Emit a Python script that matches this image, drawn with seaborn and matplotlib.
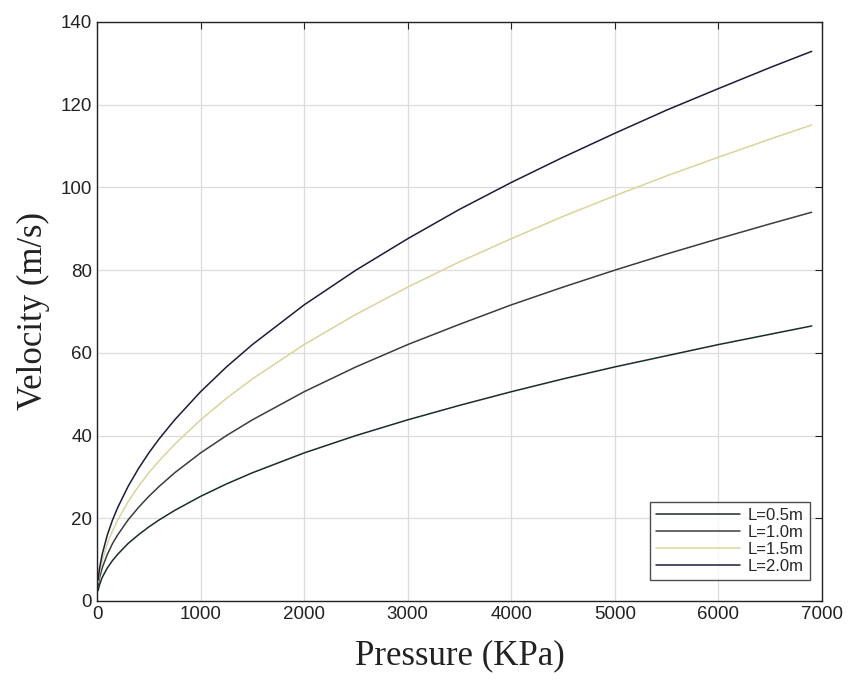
import pandas as pd
import numpy as np
import matplotlib
matplotlib.use("Agg")
import matplotlib.pyplot as plt
import seaborn as sns

# valori
pressure = [10, 25, 50, 100, 150, 200, 300, 400, 500, 600, 750, 1000, 1250,
            1500, 2000, 2500, 3000, 3500, 4000, 4500, 5000, 5500, 6000, 6500, 6900]
v_05 = [2.5, 4.0, 5.7, 8.0, 9.8, 11.3, 13.9, 16.0, 17.9, 19.6, 21.9, 25.3, 28.3,
        31.0, 35.8, 40.0, 43.8, 47.3, 50.6, 53.7, 56.6, 59.3, 62.0, 64.5, 66.5]
v_10 = [3.6, 5.7, 8.0, 11.3, 13.9, 16.0, 19.6, 22.6, 25.3, 27.7, 31.0, 35.8, 40.0,
        43.8, 50.6, 56.6, 62.0, 66.9, 71.6, 75.9, 80.0, 83.9, 87.6, 91.2, 94.0]
v_15 = [4.4, 6.9, 9.8, 13.9, 17.0, 19.6, 24.0, 27.7, 31.0, 33.9, 37.9, 43.8, 49.0,
        53.7, 62.0, 69.3, 75.9, 82.0, 87.6, 93.0, 98.0, 102.8, 107.3, 111.7, 115.1]
v_20 = [5.1, 8.0, 11.3, 16.0, 19.6, 22.6, 27.7, 32.0, 35.8, 39.2, 43.8, 50.6, 56.6,
        62.0, 71.6, 80.0, 87.6, 94.7, 101.2, 107.3, 113.1, 118.7, 123.9, 129.0, 132.9]
labels = ["L=0.5m", "L=1.0m", "L=1.5m", "L=2.0m"]
colors = ["#1a2c2c", "#3a3d3a", "#d9d49a", "#1c1c3c"]

df = pd.concat([
    pd.DataFrame({"Pressure": pressure, "Velocity": v, "L": lab})
    for v, lab in zip([v_05, v_10, v_15, v_20], labels)
])

sns.set_style("white")
plt.rcParams['font.family'] = ['Liberation Sans', 'DejaVu Sans']

fig = plt.figure(figsize=(8.57, 6.81), dpi=100)
ax = fig.add_axes([0.1132, 0.1175, 0.846, 0.8502])

sns.lineplot(data=df, x="Pressure", y="Velocity", hue="L", hue_order=labels,
             palette=colors, linewidth=1.1, ax=ax, sort=True)

ax.set_xlim(0, 7000)
ax.set_ylim(0, 140)
ax.set_xticks(np.arange(0, 7001, 1000))
ax.set_yticks(np.arange(0, 141, 20))
ax.grid(True, color="#dcdcdc", linewidth=0.9)
ax.tick_params(direction="in", top=True, right=True, length=5,
               labelsize=13.5, colors="#222222", width=0.8)
for s in ax.spines.values():
    s.set_color("#222222")
    s.set_linewidth(1.0)

ax.set_xlabel("Pressure (KPa)", family=["Liberation Serif"], fontsize=25,
              color="#222222", labelpad=12)
ax.set_ylabel("Velocity (m/s)", family=["Liberation Serif"], fontsize=25,
              color="#222222", labelpad=8)

leg = ax.legend(loc="lower right", fontsize=12, frameon=True, fancybox=False,
                edgecolor="#222222", bbox_to_anchor=(0.983, 0.036),
                borderaxespad=0, handlelength=5.0, handletextpad=0.5,
                labelspacing=0.12, borderpad=0.35)
leg.get_frame().set_linewidth(1.0)

fig.savefig("out.png", dpi=100)
